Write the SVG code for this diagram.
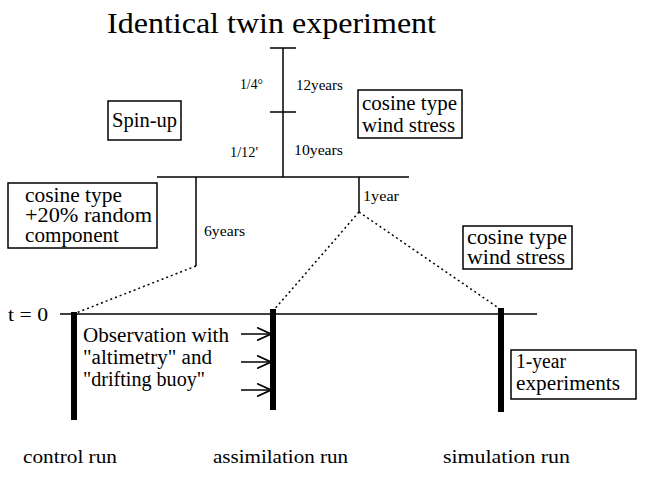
<svg xmlns="http://www.w3.org/2000/svg" width="650" height="479" viewBox="0 0 650 479">
<style>
text{font-family:"Liberation Serif","Times New Roman",serif;fill:#000}
.t{font-size:30px}
.b{font-size:20px}
.s{font-size:14px}
.l{font-size:19px}
.box{fill:#fff;stroke:#000;stroke-width:1.5}
.ln{stroke:#000;stroke-width:1.5;fill:none}
.dot{stroke:#000;stroke-width:1.5;stroke-dasharray:2 3;fill:none}
.bar{stroke:#000;stroke-width:6}
</style>
<defs>
<marker id="ah" viewBox="0 0 14 14" refX="14" refY="7" markerWidth="14" markerHeight="14" markerUnits="userSpaceOnUse" orient="auto">
<path d="M0,0.5 L14,7 L0,13.5" fill="none" stroke="#000" stroke-width="1.6"/>
</marker>
</defs>
<text class="t" x="107" y="33" textLength="329" lengthAdjust="spacingAndGlyphs">Identical twin experiment</text>
<g id="connectors">
<line class="ln" x1="283" y1="48" x2="283" y2="177"/>
<line class="ln" x1="270" y1="48" x2="296" y2="48"/>
<line class="ln" x1="270" y1="112" x2="296" y2="112"/>
<line class="ln" x1="157" y1="177" x2="409" y2="177"/>
<line class="ln" x1="196" y1="177" x2="196" y2="266"/>
<line class="ln" x1="359" y1="177" x2="359" y2="212"/>
<line class="dot" x1="196" y1="266" x2="76" y2="313"/>
<line class="dot" x1="359" y1="212" x2="273" y2="311"/>
<line class="dot" x1="359" y1="212" x2="500" y2="309"/>
<line class="ln" x1="60" y1="314" x2="537" y2="314"/>
<line class="ln" x1="241" y1="334" x2="271" y2="334" marker-end="url(#ah)"/>
<line class="ln" x1="241" y1="362" x2="271" y2="362" marker-end="url(#ah)"/>
<line class="ln" x1="241" y1="390" x2="271" y2="390" marker-end="url(#ah)"/>
</g>
<g id="labels">
<text class="s" x="240" y="89" textLength="23" lengthAdjust="spacingAndGlyphs">1/4°</text>
<text class="s" x="296" y="90" textLength="47" lengthAdjust="spacingAndGlyphs">12years</text>
<text class="s" x="230" y="157" textLength="28" lengthAdjust="spacingAndGlyphs">1/12'</text>
<text class="s" x="294" y="155" textLength="49" lengthAdjust="spacingAndGlyphs">10years</text>
<text class="s" x="204" y="236" textLength="41" lengthAdjust="spacingAndGlyphs">6years</text>
<text class="s" x="363" y="201" textLength="36" lengthAdjust="spacingAndGlyphs">1year</text>
<text class="l" x="8" y="321" textLength="40" lengthAdjust="spacingAndGlyphs">t = 0</text>
</g>
<g id="spinup">
<rect class="box" x="108" y="101" width="73" height="39"/>
<text class="b" x="112" y="127" textLength="65" lengthAdjust="spacingAndGlyphs">Spin-up</text>
</g>
<g id="wind1">
<rect class="box" x="358" y="90" width="104" height="48"/>
<text class="b" x="362" y="110" textLength="95" lengthAdjust="spacingAndGlyphs">cosine type</text>
<text class="b" x="362" y="132" textLength="93" lengthAdjust="spacingAndGlyphs">wind stress</text>
</g>
<g id="random">
<rect class="box" x="8" y="183" width="149" height="65"/>
<text class="b" x="25" y="202" textLength="97" lengthAdjust="spacingAndGlyphs">cosine type</text>
<text class="b" x="25" y="222" textLength="127" lengthAdjust="spacingAndGlyphs">+20% random</text>
<text class="b" x="25" y="242" textLength="94" lengthAdjust="spacingAndGlyphs">component</text>
</g>
<g id="wind2">
<rect class="box" x="463" y="226" width="109" height="43"/>
<text class="b" x="467" y="244" textLength="100" lengthAdjust="spacingAndGlyphs">cosine type</text>
<text class="b" x="467" y="264" textLength="98" lengthAdjust="spacingAndGlyphs">wind stress</text>
</g>
<g id="control">
<line class="bar" x1="74" y1="312" x2="74" y2="420"/>
<text class="l" x="23" y="463" textLength="94" lengthAdjust="spacingAndGlyphs">control run</text>
</g>
<g id="assimilation">
<line class="bar" x1="273" y1="309" x2="273" y2="410"/>
<text class="b" x="83" y="342" textLength="146" lengthAdjust="spacingAndGlyphs">Observation with</text>
<text class="b" x="83" y="364" textLength="129" lengthAdjust="spacingAndGlyphs">"altimetry" and</text>
<text class="b" x="83" y="386" textLength="122" lengthAdjust="spacingAndGlyphs">"drifting buoy"</text>
<text class="l" x="213" y="463" textLength="135" lengthAdjust="spacingAndGlyphs">assimilation run</text>
</g>
<g id="simulation">
<line class="bar" x1="501" y1="308" x2="501" y2="412"/>
<rect class="box" x="511" y="350" width="125" height="49"/>
<text class="b" x="516" y="368" textLength="50" lengthAdjust="spacingAndGlyphs">1-year</text>
<text class="b" x="516" y="390" textLength="104" lengthAdjust="spacingAndGlyphs">experiments</text>
<text class="l" x="443" y="463" textLength="127" lengthAdjust="spacingAndGlyphs">simulation run</text>
</g>
</svg>
